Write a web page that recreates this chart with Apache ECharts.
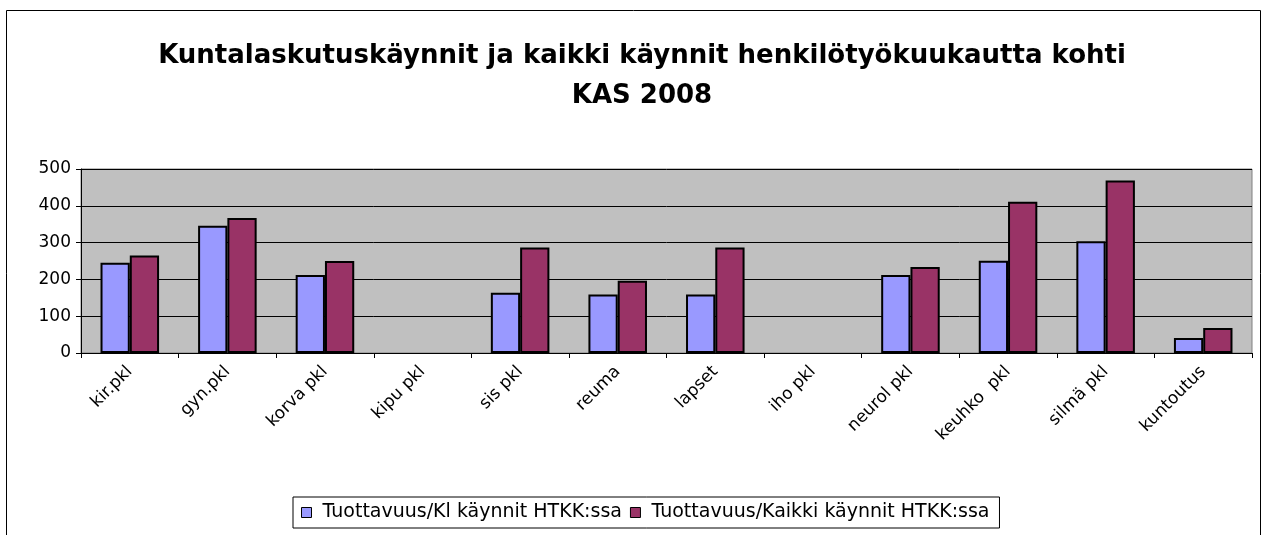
<!DOCTYPE html>
<html lang="fi">
<head>
    <meta charset="UTF-8">
    <title>KAS 2008</title>
    <style>
        html, body { margin: 0; padding: 0; background: #fff; }
        #chart { width: 1266px; height: 535px; }
    </style>
</head>
<body>
<div id="chart"></div>
<script src="https://cdn.jsdelivr.net/npm/echarts@6/dist/echarts.min.js"></script>
<script>
    // klinikat
    var categories = ['kir.pkl', 'gyn.pkl', 'korva pkl', 'kipu pkl', 'sis pkl', 'reuma',
        'lapset', 'iho pkl', 'neurol pkl', 'keuhko  pkl', 'silmä pkl', 'kuntoutus'];
    // Tuottavuus/Kl käynnit HTKK:ssa
    var klKaynnit = [245, 346, 212, null, 164, 159, 159, null, 212, 251, 304, 41];
    // Tuottavuus/Kaikki käynnit HTKK:ssa
    var kaikkiKaynnit = [265, 367, 250, null, 287, 196, 287, null, 234, 411, 469, 68];
    var yTicks = [0, 100, 200, 300, 400, 500];

    var font = 'DejaVu Sans, Liberation Sans, Arial, sans-serif';
    var myChart = echarts.init(document.getElementById('chart'));

    var option = {
        animation: false,
        backgroundColor: '#fff',
        textStyle: { fontFamily: font },
        title: {
            text: 'Kuntalaskutuskäynnit ja kaikki käynnit henkilötyökuukautta kohti\nKAS 2008',
            left: 637,
            textAlign: 'center',
            top: 31,
            textStyle: { fontSize: 26, fontWeight: 'bold', color: '#000', lineHeight: 40, fontFamily: font }
        },
        graphic: [{
            type: 'rect',
            shape: { x: 6.5, y: 10.5, width: 1254, height: 540 },
            style: { fill: null, stroke: '#000', lineWidth: 1 },
            silent: true
        }],
        legend: {
            data: ['Tuottavuus/Kl käynnit HTKK:ssa', 'Tuottavuus/Kaikki käynnit HTKK:ssa'],
            left: 293,
            top: 497,
            padding: [6, 10, 6, 8],
            borderColor: '#000',
            borderWidth: 1,
            itemWidth: 10,
            itemHeight: 10,
            itemGap: 8,
            icon: 'rect',
            formatter: function (name) { return ' ' + name; },
            itemStyle: { borderColor: '#000', borderWidth: 1 },
            textStyle: { fontSize: 19, color: '#000', fontFamily: font }
        },
        grid: {
            left: 81,
            right: 14,
            top: 169,
            height: 184,
            show: true,
            backgroundColor: '#C0C0C0',
            borderColor: '#808080',
            borderWidth: 1
        },
        xAxis: {
            type: 'category',
            data: categories,
            axisLine: { lineStyle: { color: '#000' } },
            axisTick: { show: true, alignWithLabel: false, length: 5, lineStyle: { color: '#000' } },
            axisLabel: { rotate: 45, fontSize: 17, color: '#000', margin: 16, interval: 0, fontFamily: font }
        },
        yAxis: {
            type: 'value',
            min: yTicks[0],
            max: yTicks[yTicks.length - 1],
            interval: 100,
            axisLine: { show: true, lineStyle: { color: '#000' } },
            axisTick: { show: true, length: 5, lineStyle: { color: '#000' } },
            axisLabel: { fontSize: 17, color: '#000', margin: 10, fontFamily: font },
            splitLine: { lineStyle: { color: '#000', width: 1 } }
        },
        series: [{
            name: 'Tuottavuus/Kl käynnit HTKK:ssa',
            type: 'bar',
            data: klKaynnit,
            barGap: '0%',
            barCategoryGap: '40%',
            itemStyle: { color: '#9999FF', borderColor: '#000', borderWidth: 2 }
        }, {
            name: 'Tuottavuus/Kaikki käynnit HTKK:ssa',
            type: 'bar',
            data: kaikkiKaynnit,
            itemStyle: { color: '#993366', borderColor: '#000', borderWidth: 2 }
        }]
    };
    myChart.setOption(option);
</script>
</body>
</html>
